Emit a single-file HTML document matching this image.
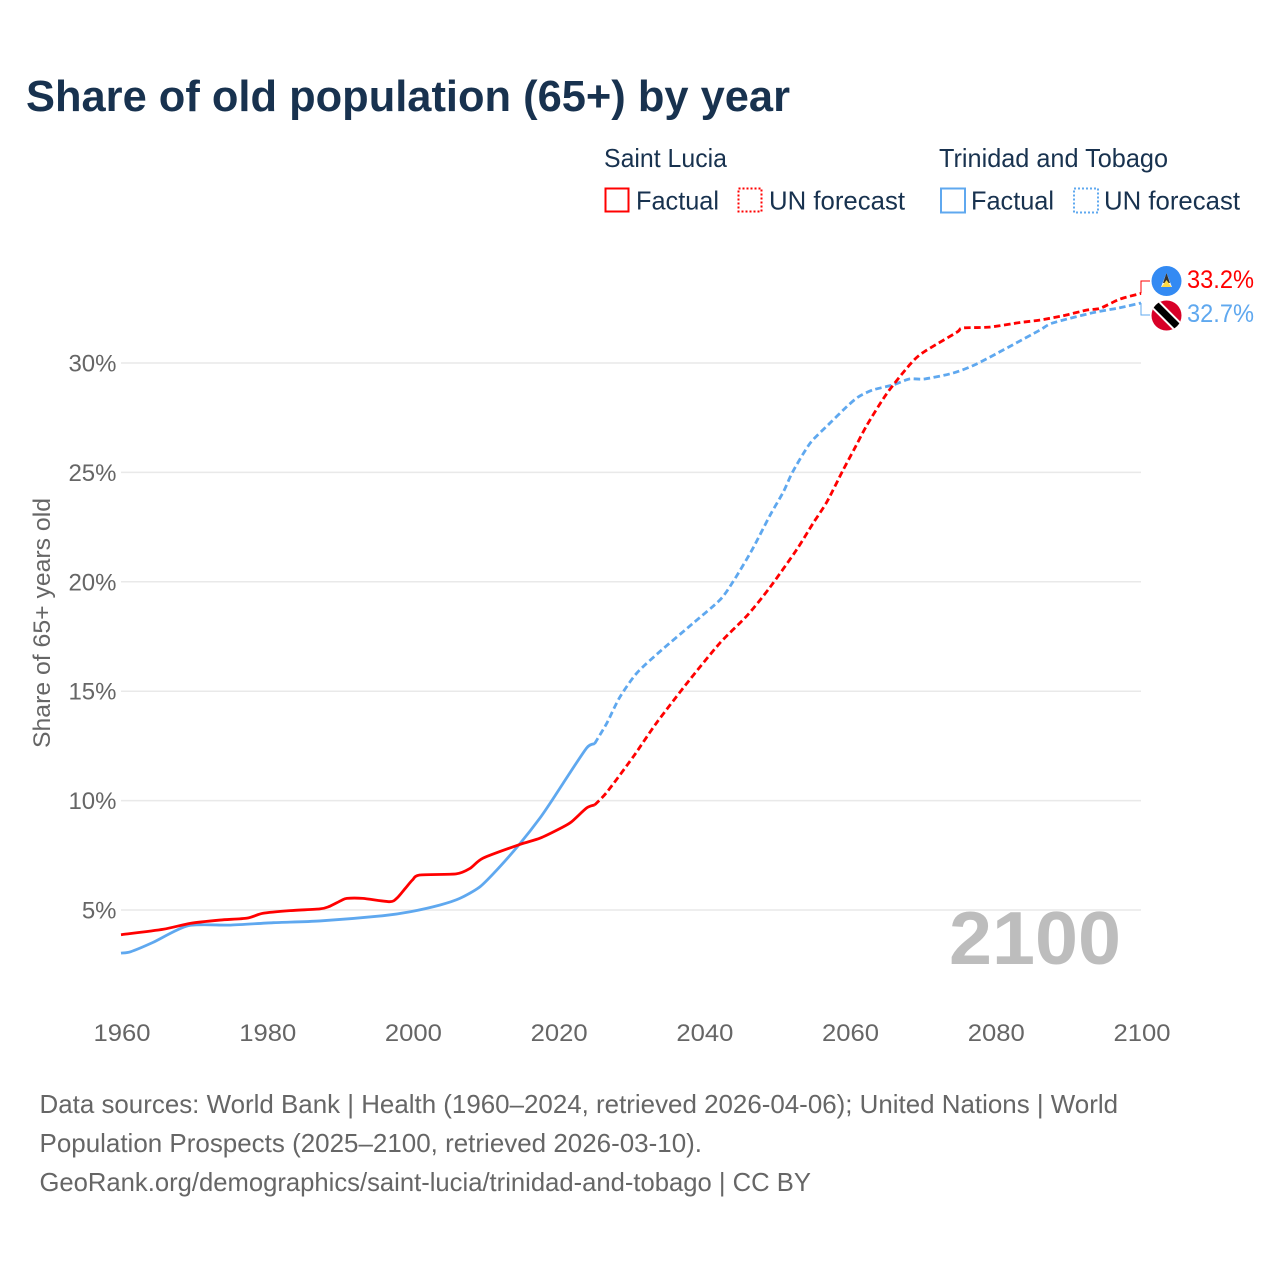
<!DOCTYPE html>
<html lang="en">
<head>
<meta charset="utf-8">
<title>Share of old population (65+) by year</title>
<style>
html,body{margin:0;padding:0;background:#fff;width:1280px;height:1280px;overflow:hidden}
svg{display:block;font-family:"Liberation Sans",sans-serif}
</style>
</head>
<body>
<svg id="chart" width="1280" height="1280" viewBox="0 0 1280 1280" xmlns="http://www.w3.org/2000/svg">
  <rect width="1280" height="1280" fill="#fff"/>
  <text x="26" y="111" font-size="44" font-weight="700" fill="#18324f" textLength="764" lengthAdjust="spacingAndGlyphs">Share of old population (65+) by year</text>

  <g font-size="26" fill="#18324f">
    <text x="604" y="167" textLength="123" lengthAdjust="spacingAndGlyphs">Saint Lucia</text>
    <rect x="605.5" y="188.5" width="23" height="23" fill="none" stroke="#ff0000" stroke-width="2"/>
    <text x="636" y="209.5" textLength="83" lengthAdjust="spacingAndGlyphs">Factual</text>
    <rect x="738.5" y="188.5" width="23" height="23" fill="none" stroke="#ff0000" stroke-width="2" stroke-dasharray="2,2"/>
    <text x="769" y="209.5" textLength="136" lengthAdjust="spacingAndGlyphs">UN forecast</text>
    <text x="939" y="167" textLength="229" lengthAdjust="spacingAndGlyphs">Trinidad and Tobago</text>
    <rect x="941" y="188.5" width="24" height="24" fill="none" stroke="#5fa8ef" stroke-width="2"/>
    <text x="971" y="209.5" textLength="83" lengthAdjust="spacingAndGlyphs">Factual</text>
    <rect x="1074" y="188.5" width="24" height="24" fill="none" stroke="#5fa8ef" stroke-width="2" stroke-dasharray="2,2"/>
    <text x="1104" y="209.5" textLength="136" lengthAdjust="spacingAndGlyphs">UN forecast</text>
  </g>

  <text transform="translate(50,748) rotate(-90)" font-size="24" fill="#666" textLength="250" lengthAdjust="spacingAndGlyphs">Share of 65+ years old</text>

  <g id="grid"></g>
  <g id="yLabels" font-size="24" fill="#666"></g>
  <g id="xLabels" font-size="24" fill="#666"></g>

  <text id="yearLabel" x="949" y="964" font-size="75" font-weight="700" fill="#bdbdbd" textLength="172" lengthAdjust="spacingAndGlyphs">2100</text>

  <g id="series"></g>

  <g>
    <path id="connectorLucia" fill="none" stroke="#ff0000" stroke-width="1"/>
    <path id="connectorTrinidad" fill="none" stroke="#5fa8ef" stroke-width="1"/>

    <g>
      <circle cx="1166.5" cy="281" r="15" fill="#338af3"/>
      <polygon points="1166.5,273 1172,287 1161,287" fill="#f3f3f3"/>
      <polygon points="1166.5,273 1170,283 1163,283" fill="#333"/>
      <polygon points="1166.5,280 1171.5,287 1161.5,287" fill="#ffda44"/>
    </g>
    <g>
      <clipPath id="ttClip"><circle cx="1166.5" cy="315.5" r="15"/></clipPath>
      <circle cx="1166.5" cy="315.5" r="15" fill="#d80027"/>
      <g clip-path="url(#ttClip)">
        <line x1="1152" y1="301" x2="1181" y2="330" stroke="#fff" stroke-width="11"/>
        <line x1="1152" y1="301" x2="1181" y2="330" stroke="#000" stroke-width="7"/>
      </g>
    </g>
    <text id="valueLucia" x="1187" y="288" font-size="25" fill="#ff0000" textLength="67" lengthAdjust="spacingAndGlyphs"></text>
    <text id="valueTrinidad" x="1187" y="322" font-size="25" fill="#5fa8ef" textLength="67" lengthAdjust="spacingAndGlyphs"></text>
  </g>

  <g font-size="26" fill="#666">
    <text x="39.5" y="1113" textLength="1078.5" lengthAdjust="spacingAndGlyphs">Data sources: World Bank | Health (1960–2024, retrieved 2026-04-06); United Nations | World</text>
    <text x="39.5" y="1152" textLength="662.5" lengthAdjust="spacingAndGlyphs">Population Prospects (2025–2100, retrieved 2026-03-10).</text>
    <text x="39.5" y="1191" textLength="771.5" lengthAdjust="spacingAndGlyphs">GeoRank.org/demographics/saint-lucia/trinidad-and-tobago | CC BY</text>
  </g>
</svg>
<script>
var yTickValues = [5, 10, 15, 20, 25, 30];
var yTickLabels = ["5%", "10%", "15%", "20%", "25%", "30%"];
var xTickValues = [1960, 1980, 2000, 2020, 2040, 2060, 2080, 2100];
var xTickLabels = ["1960", "1980", "2000", "2020", "2040", "2060", "2080", "2100"];

var luciaFactualYears = [1960, 1965.8, 1969.5, 1973.6, 1977.3, 1979.5, 1983.2, 1987.3, 1988.5, 1990.2, 1991, 1993.2, 1996.9, 1997.9, 1999, 2000, 2001, 2006, 2007.9, 2009.7, 2014.7, 2017.5, 2020.3, 2021.8, 2023.9, 2025];
var luciaFactualValues = [3.87, 4.12, 4.39, 4.54, 4.63, 4.85, 4.97, 5.05, 5.15, 5.43, 5.53, 5.53, 5.38, 5.55, 5.98, 6.37, 6.6, 6.65, 6.9, 7.37, 7.99, 8.28, 8.73, 9.02, 9.66, 9.8];

var luciaForecastYears = [2025, 2026.7, 2030.3, 2033.5, 2038, 2042.2, 2046, 2049.1, 2052.7, 2055, 2056.9, 2059.1, 2060.7, 2062.4, 2065.1, 2068.2, 2070, 2074.7, 2075.5, 2079.2, 2083.4, 2086.1, 2089.3, 2092.6, 2094.4, 2097.1, 2100];
var luciaForecastValues = [9.8, 10.39, 12.0, 13.55, 15.5, 17.2, 18.48, 19.76, 21.45, 22.68, 23.66, 25.1, 26.1, 27.17, 28.6, 29.9, 30.46, 31.4, 31.6, 31.64, 31.85, 31.96, 32.16, 32.42, 32.5, 32.92, 33.18];

var trinidadFactualYears = [1960, 1961.3, 1964.4, 1969.2, 1975, 1980.9, 1987.3, 1996, 1999.7, 2003.8, 2006.5, 2009.3, 2012, 2014.8, 2017.5, 2019.2, 2020.7, 2023.9, 2025];
var trinidadFactualValues = [3.03, 3.09, 3.52, 4.28, 4.31, 4.42, 4.5, 4.74, 4.92, 5.23, 5.53, 6.07, 6.98, 8.05, 9.2, 10.03, 10.8, 12.4, 12.6];

var trinidadForecastYears = [2025, 2026.7, 2028.4, 2030.8, 2034.2, 2038.5, 2042.2, 2044, 2046.6, 2049.1, 2050.9, 2052.2, 2054.6, 2057.3, 2059.6, 2061.2, 2063.2, 2066, 2068.2, 2070.3, 2074.2, 2077.4, 2082.4, 2086.1, 2087.9, 2093.4, 2096.7, 2100];
var trinidadForecastValues = [12.6, 13.55, 14.69, 15.83, 16.88, 18.1, 19.17, 20.0, 21.45, 23.05, 24.1, 25.03, 26.34, 27.25, 28.0, 28.45, 28.77, 29.0, 29.27, 29.27, 29.54, 29.95, 30.83, 31.5, 31.83, 32.3, 32.5, 32.74];

var luciaColor = "#ff0000";
var trinidadColor = "#5fa8ef";
var NS = "http://www.w3.org/2000/svg";

function xScale(year) { return 121 + (year - 1960) * (1020 / 140); }
function yScale(value) { return 910 - (value - 5) * (547 / 25); }

function linePath(years, values) {
  var pts = years.map(function (yr, i) { return [xScale(yr), yScale(values[i])]; });
  var d = "M" + pts[0][0].toFixed(2) + " " + pts[0][1].toFixed(2);
  for (var i = 0; i < pts.length - 1; i++) {
    var p0 = pts[Math.max(i - 1, 0)];
    var p1 = pts[i];
    var p2 = pts[i + 1];
    var p3 = pts[Math.min(i + 2, pts.length - 1)];
    var c1x = p1[0] + (p2[0] - p0[0]) / 8;
    var c1y = p1[1] + (p2[1] - p0[1]) / 8;
    var c2x = p2[0] - (p3[0] - p1[0]) / 8;
    var c2y = p2[1] - (p3[1] - p1[1]) / 8;
    d += " C" + c1x.toFixed(2) + " " + c1y.toFixed(2) + " " + c2x.toFixed(2) + " " + c2y.toFixed(2) + " " + p2[0].toFixed(2) + " " + p2[1].toFixed(2);
  }
  return d;
}

var grid = document.getElementById("grid");
var yLabels = document.getElementById("yLabels");
var xLabels = document.getElementById("xLabels");
var series = document.getElementById("series");

yTickValues.forEach(function (v, i) {
  var line = document.createElementNS(NS, "line");
  
  
  line.setAttribute("x1", 121);
  line.setAttribute("x2", 1141);
  line.setAttribute("y1", yScale(v));
  line.setAttribute("y2", yScale(v));
  line.setAttribute("stroke", "#e9e9e9");
  line.setAttribute("stroke-width", 1.5);
  grid.appendChild(line);

  var t = document.createElementNS(NS, "text");
  
  
  t.setAttribute("x", 116.5);
  t.setAttribute("y", yScale(v) + 8.5);
  t.setAttribute("text-anchor", "end");
  t.textContent = yTickLabels[i];
  yLabels.appendChild(t);
});

xTickValues.forEach(function (v, i) {
  var t = document.createElementNS(NS, "text");
  
  
  t.setAttribute("x", xScale(v) + 1);
  t.setAttribute("y", 1041);
  t.setAttribute("text-anchor", "middle");
  t.setAttribute("textLength", 57);
  t.setAttribute("lengthAdjust", "spacingAndGlyphs");
  t.textContent = xTickLabels[i];
  xLabels.appendChild(t);
});

var trinidadFactualLine = document.createElementNS(NS, "path");


trinidadFactualLine.setAttribute("d", linePath(trinidadFactualYears, trinidadFactualValues));
trinidadFactualLine.setAttribute("fill", "none");
trinidadFactualLine.setAttribute("stroke", trinidadColor);
trinidadFactualLine.setAttribute("stroke-width", 2.8);
series.appendChild(trinidadFactualLine);

var trinidadForecastLine = document.createElementNS(NS, "path");


trinidadForecastLine.setAttribute("d", linePath(trinidadForecastYears, trinidadForecastValues));
trinidadForecastLine.setAttribute("fill", "none");
trinidadForecastLine.setAttribute("stroke", trinidadColor);
trinidadForecastLine.setAttribute("stroke-width", 2.8);
trinidadForecastLine.setAttribute("stroke-dasharray", "6.5,3.5");
series.appendChild(trinidadForecastLine);

var luciaFactualLine = document.createElementNS(NS, "path");


luciaFactualLine.setAttribute("d", linePath(luciaFactualYears, luciaFactualValues));
luciaFactualLine.setAttribute("fill", "none");
luciaFactualLine.setAttribute("stroke", luciaColor);
luciaFactualLine.setAttribute("stroke-width", 2.8);
series.appendChild(luciaFactualLine);

var luciaForecastLine = document.createElementNS(NS, "path");


luciaForecastLine.setAttribute("d", linePath(luciaForecastYears, luciaForecastValues));
luciaForecastLine.setAttribute("fill", "none");
luciaForecastLine.setAttribute("stroke", luciaColor);
luciaForecastLine.setAttribute("stroke-width", 2.8);
luciaForecastLine.setAttribute("stroke-dasharray", "6.5,3.5");
series.appendChild(luciaForecastLine);

var lastLucia = luciaForecastValues[luciaForecastValues.length - 1];
var lastTrinidad = trinidadForecastValues[trinidadForecastValues.length - 1];
document.getElementById("valueLucia").textContent = lastLucia.toFixed(1) + "%";
document.getElementById("valueTrinidad").textContent = lastTrinidad.toFixed(1) + "%";
document.getElementById("connectorLucia").setAttribute("d", "M1141 " + yScale(lastLucia).toFixed(1) + " V281 H1150");
document.getElementById("connectorTrinidad").setAttribute("d", "M1141 " + yScale(lastTrinidad).toFixed(1) + " V315 H1150");
</script>
</body>
</html>
